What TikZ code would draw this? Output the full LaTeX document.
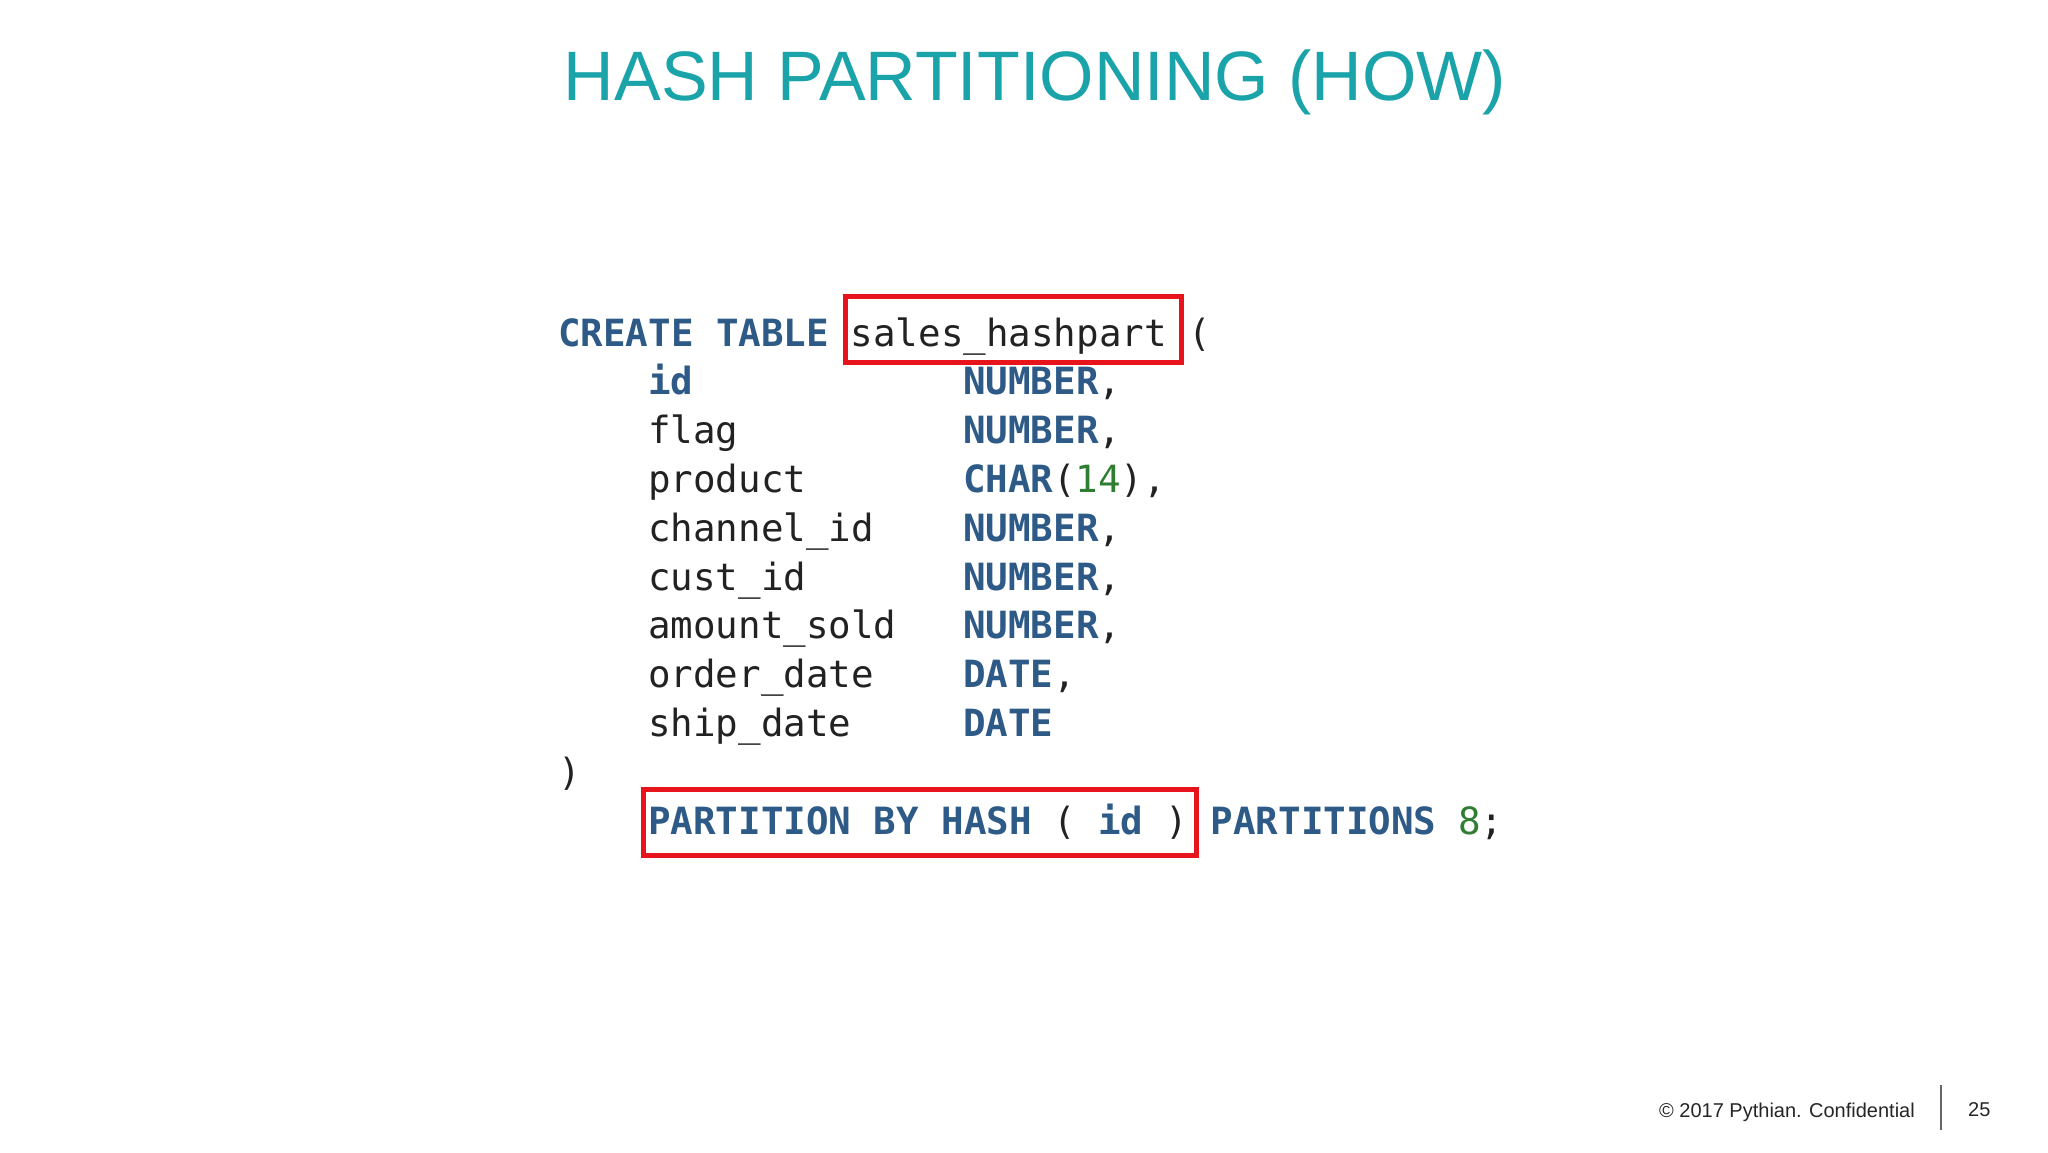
\documentclass[tikz,border=0pt]{standalone}
\usepackage{fontspec}
\setmainfont{Liberation Sans}
\newfontfamily\codefont{DejaVu Sans Mono}
\definecolor{ttl}{HTML}{1AA3A9}
\definecolor{kw}{HTML}{2D5A86}
\definecolor{num}{HTML}{2E7D32}
\definecolor{idt}{HTML}{222222}
\definecolor{rbox}{HTML}{E8141C}
\begin{document}
\begin{tikzpicture}[x=1pt,y=-1pt,
  cd/.style={anchor=base west,inner sep=0pt,font=\codefont\fontsize{37.5}{45}\selectfont,text=idt},
  k/.style={cd,text=kw,font=\codefont\bfseries\fontsize{37.5}{45}\selectfont},
  n/.style={cd,text=num},
  hl/.style={draw=rbox,line width=5pt}]
\useasboundingbox (0,0) rectangle (2048,1152);
\fill[white] (0,0) rectangle (2048,1152);
\node[text=ttl,font=\fontsize{70}{80}\selectfont] (title) at (1035,82) {HASH PARTITIONING (HOW)};
\def\X#1{\fpeval{558+#1*22.5}}
\def\Y#1{\fpeval{346+#1*48.8}}
\node[k] (c0) at (\X{0},\Y{0}) {CREATE TABLE};
\node[cd] (c1) at (\X{13},\Y{0}) {sales\_hashpart};
\node[cd] (c2) at (\X{28},\Y{0}) {(};
\node[k] (r1a) at (\X{4},\Y{1}) {id};
\node[k] (r1b) at (\X{18},\Y{1}) {NUMBER};\node[cd] at (\X{24},\Y{1}) {,};
\node[cd] (r2a) at (\X{4},\Y{2}) {flag};
\node[k] (r2b) at (\X{18},\Y{2}) {NUMBER};\node[cd] at (\X{24},\Y{2}) {,};
\node[cd] (r3a) at (\X{4},\Y{3}) {product};
\node[k] (r3b) at (\X{18},\Y{3}) {CHAR};\node[cd] at (\X{22},\Y{3}) {(};
\node[n] at (\X{23},\Y{3}) {14};\node[cd] at (\X{25},\Y{3}) {),};
\node[cd] (r4a) at (\X{4},\Y{4}) {channel\_id};
\node[k] (r4b) at (\X{18},\Y{4}) {NUMBER};\node[cd] at (\X{24},\Y{4}) {,};
\node[cd] (r5a) at (\X{4},\Y{5}) {cust\_id};
\node[k] (r5b) at (\X{18},\Y{5}) {NUMBER};\node[cd] at (\X{24},\Y{5}) {,};
\node[cd] (r6a) at (\X{4},\Y{6}) {amount\_sold};
\node[k] (r6b) at (\X{18},\Y{6}) {NUMBER};\node[cd] at (\X{24},\Y{6}) {,};
\node[cd] (r7a) at (\X{4},\Y{7}) {order\_date};
\node[k] (r7b) at (\X{18},\Y{7}) {DATE};\node[cd] at (\X{22},\Y{7}) {,};
\node[cd] (r8a) at (\X{4},\Y{8}) {ship\_date};
\node[k] (r8b) at (\X{18},\Y{8}) {DATE};
\node[cd] (cl) at (\X{0},\Y{9}) {)};
\node[k] (p1) at (\X{4},\Y{10}) {PARTITION BY HASH};
\node[cd] at (\X{22},\Y{10}) {(};
\node[k] at (\X{24},\Y{10}) {id};
\node[cd] at (\X{27},\Y{10}) {)};
\node[k] (p2) at (\X{29},\Y{10}) {PARTITIONS};
\node[n] at (\X{40},\Y{10}) {8};
\node[cd] at (\X{41},\Y{10}) {;};
\draw[hl] (845,296) rectangle (1181,362);
\draw[hl] (643,789) rectangle (1196,855);
\node[anchor=base east,inner sep=0pt,font=\fontsize{20}{24}\selectfont,text=black!85] (foot) at (1915,1117) {© 2017 Pythian. Confidential};
\draw[black!60,line width=1.5pt] (1941,1085) -- (1941,1130);
\node[anchor=base west,inner sep=0pt,font=\fontsize{20}{24}\selectfont,text=black!85] (pg) at (1968,1116) {25};
\end{tikzpicture}
\end{document}
